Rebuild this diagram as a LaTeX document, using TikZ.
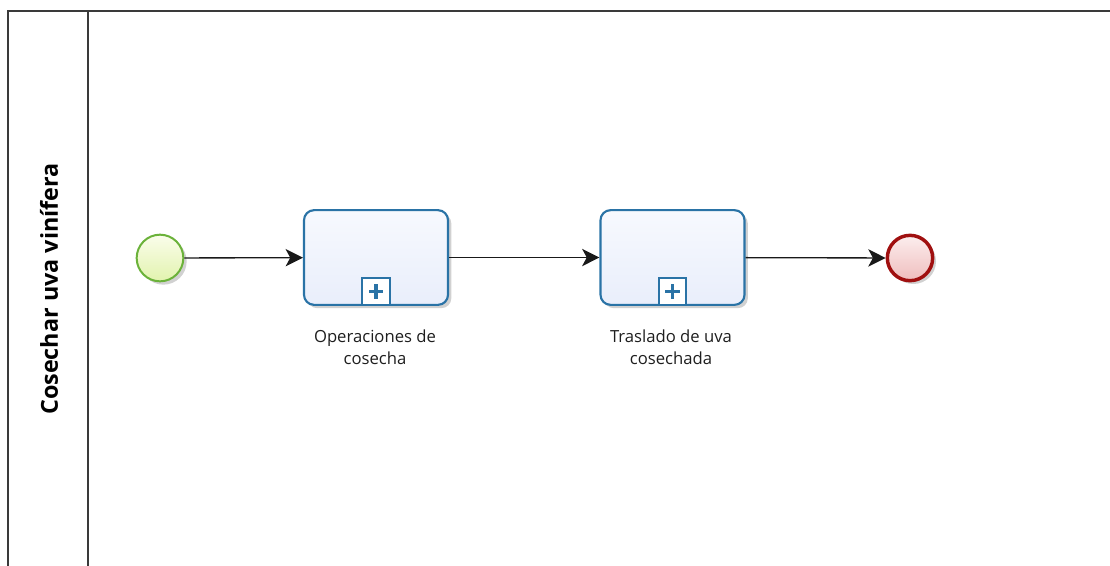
\documentclass[tikz,border=0pt]{standalone}
\usepackage{fontspec}
\setmainfont{Open Sans}
\setsansfont{Open Sans}
\usetikzlibrary{arrows.meta,shadows}
\definecolor{poolline}{HTML}{3A3A3A}
\definecolor{taskstroke}{HTML}{2A73A6}
\definecolor{taskfillA}{HTML}{F7F9FE}
\definecolor{taskfillB}{HTML}{E9EEFB}
\definecolor{startstroke}{HTML}{6BB23A}
\definecolor{startfillA}{HTML}{FAFDEB}
\definecolor{startfillB}{HTML}{E2F3AE}
\definecolor{endstroke}{HTML}{A01010}
\definecolor{endfillA}{HTML}{FCEEEE}
\definecolor{endfillB}{HTML}{EFBDBD}
\definecolor{labeltext}{HTML}{1E1E1E}
\tikzset{
  pool/.style={draw=poolline, line width=1.4pt},
  task/.style={draw=taskstroke, line width=1.6pt, rounded corners=7.5pt,
    top color=taskfillA, bottom color=taskfillB,
    minimum width=108pt, minimum height=71pt, inner sep=0pt,
    drop shadow={shadow xshift=2.5pt, shadow yshift=-2.5pt, opacity=0.18, fill=black}},
  startev/.style={circle, draw=startstroke, line width=1.5pt,
    top color=startfillA, bottom color=startfillB,
    minimum size=35pt, inner sep=0pt,
    drop shadow={shadow xshift=2.5pt, shadow yshift=-2.5pt, opacity=0.18, fill=black}},
  endev/.style={circle, draw=endstroke, line width=2.6pt,
    top color=endfillA, bottom color=endfillB,
    minimum size=34pt, inner sep=0pt,
    drop shadow={shadow xshift=2.5pt, shadow yshift=-2.5pt, opacity=0.18, fill=black}},
  marker/.style={draw=taskstroke, line width=1.4pt, fill=white,
    minimum width=20.5pt, minimum height=20pt, inner sep=0pt},
  flow/.style={draw=black!90, line width=1pt, -{Stealth[length=13pt,width=13pt,inset=3.5pt]}},
  tasklabel/.style={font=\fontsize{12.5pt}{16.5pt}\selectfont, text=labeltext, align=center},
  lanelabel/.style={font=\fontsize{17.5pt}{20pt}\selectfont\bfseries, text=black, rotate=90}
}
\begin{document}
\begin{tikzpicture}[x=0.75pt,y=-0.75pt]
\useasboundingbox (0,0) rectangle (1110,565);
% pool and lane
\coordinate (pTL) at (8,11);
\coordinate (pTR) at (1112,11);
\coordinate (pBL) at (8,567);
\coordinate (dT) at (88,11);
\coordinate (dB) at (88,567);
\draw[pool] (pTR) -- (pTL) -- (pBL);
\draw[pool] (dT) -- (dB);
\node[lanelabel] (lane) at (49,289) {Cosechar uva vinífera};
% events and tasks
\node[startev] (start) at (160,258) {};
\node[task] (t1) at (376,257.5) {};
\node[task] (t2) at (672.5,257.5) {};
\node[endev] (end) at (910,258) {};
% collapsed subprocess markers
\node[marker, anchor=south] (m1) at (t1.south) {};
\node[marker, anchor=south] (m2) at (t2.south) {};
\foreach \m in {m1,m2}{
  \fill[taskstroke] ([xshift=-1.3pt,yshift=-5.5pt]\m.center) rectangle ([xshift=1.3pt,yshift=5.5pt]\m.center);
  \fill[taskstroke] ([xshift=-5.5pt,yshift=-1.3pt]\m.center) rectangle ([xshift=5.5pt,yshift=1.3pt]\m.center);
}
% labels
\node[tasklabel] (l1) at (375,347) {Operaciones de\\cosecha};
\node[tasklabel] (l2) at (671,347) {Traslado de uva\\cosechada};
% sequence flows
\draw[flow] (start) -- (t1);
\draw[flow] (t1) -- (t2);
\draw[flow] (t2) -- (end);
\end{tikzpicture}
\end{document}
